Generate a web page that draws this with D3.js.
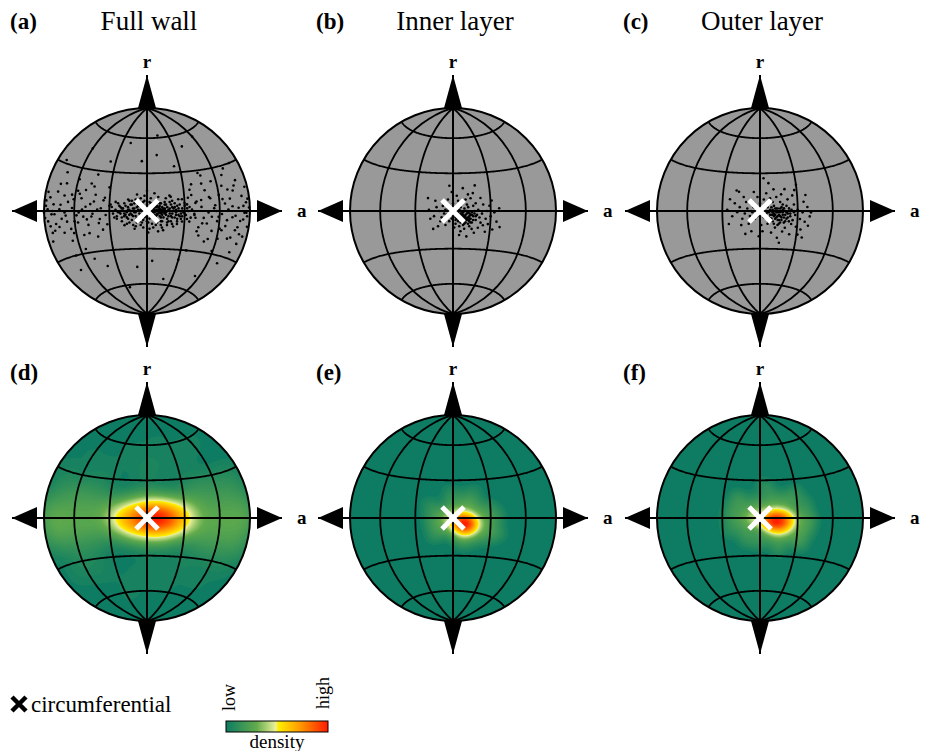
<!DOCTYPE html>
<html>
<head>
<meta charset="utf-8">
<script src="https://cdn.jsdelivr.net/npm/d3@7"></script>
<style>
  body { margin: 0; background: #fff; }
  svg { display: block; }
</style>
</head>
<body>
<svg></svg>
<script>
//SET UP THE CANVAS
var w = 928;
var h = 751;
var R = 103;               // radius of the net
var colX = [147, 453, 760];
var rowY = [211, 518];
var serif = "'Liberation Serif', 'Times New Roman', serif";

var svg = d3.select("svg")
     .attr("width", w)
     .attr("height", h)
     .attr("font-family", serif)
     .style("background-color", "white");

//DATA (orientation of fibres as [longitude, latitude] in degrees)
var panelLabels = ["(a)", "(b)", "(c)", "(d)", "(e)", "(f)"];
var titles = ["Full wall", "Inner layer", "Outer layer"];
var meridians = [-60, -30, 30, 60];
var parallels = [-60, -30, 30, 60];

var fullWall = [
  // dense core
  [-1,0],[2,1],[-3,-1],[4,-2],[1,3],[-2,-3],[5,2],[-5,1],[3,-4],[6,-1],[-6,-2],[0,5],[7,3],[-7,4],[8,-3],
  [-4,-5],[9,1],[-9,-1],[2,-6],[10,4],[-8,3],[11,-2],[-10,2],[12,1],[-11,-4],[13,-5],[4,6],[-3,7],[14,2],
  [-12,0],[15,-1],[6,-7],[-13,5],[16,3],[-14,-3],[17,-4],[1,-9],[18,0],[-15,1],[19,5],[-6,-8],[20,-2],
  [-16,-1],[21,2],[8,8],[-17,4],[22,-5],[-18,-2],[23,1],[11,-8],[-19,0],[24,4],[-9,9],[25,-3],[-20,-5],
  [26,0],[3,10],[-21,3],[27,-6],[14,7],[-22,-1],[28,2],[-5,-11],[29,-1],[-23,6],[7,-11],[30,4],[-24,-4],
  [16,-9],[-2,12],[31,-3],[-12,8],[9,11],[-25,1],[20,8],[-14,-9],[33,0],[12,-13],[-27,-2],[2,-14],[24,-10],
  [-8,13],[18,12],[-29,5],[35,-5],[0,16],[-18,-11],[6,14],[28,9],[-10,-14],
  [1,-2],[3,0],[-1,2],[5,-1],[7,0],[9,-2],[11,1],[13,-1],[4,2],[6,3],[10,-4],[12,3],[8,1],[-2,2],[2,-3],
  [-15,3],[-13,-2],[-11,2],[-9,-4],[-7,1],[-5,-3],[-3,3],[-1,-4],[1,1],[3,-2],[5,4],[7,-4],[9,3],[11,-5],
  [13,2],[15,-3],[17,1],[19,-4],[21,0],[23,-3],[25,2],[27,-2],[-17,-3],[-19,2],[-21,-2],[-12,5],[-8,-6],
  [-4,0],[0,-2],[4,-5],[8,4],[12,-3],[16,-6],[20,3],[24,-6],[28,-4],[-14,1],[-10,-1],[-6,4],[-2,-5],[2,3],
  [6,-3],[10,2],[14,-2],[18,-2],[22,3],[26,-4],[30,-2],[-16,-5],[-12,-3],[-7,-6],[-3,-7],[3,6],[7,5],
  [11,6],[15,5],[19,-8],[23,-1],[-20,2],[-23,-1],[32,2],[-2,0],[0,2],[2,-1],[4,0],[6,1],[8,-2],[10,-1],
  [12,-1],[14,1],[16,0],[18,2],[20,-5],[-18,-4],[-15,-6],[17,-8],
  [-24,-6],[-22,4],[-20,-8],[-18,6],[-16,-10],[-14,8],[-12,-7],[-10,6],[-8,-9],[-6,7],[-4,-9],[-2,8],
  [0,-8],[2,7],[4,-10],[6,7],[8,-9],[10,6],[12,-8],[14,5],[16,-11],[18,7],[20,-10],[22,6],[24,-8],[26,5],
  [28,-8],[30,6],[32,-6],[34,3],[-26,-5],[-28,3],[-25,7],[21,-12],[13,-15],[5,-13],[-3,-13],[-11,-11],
  [9,-16],[1,-17],[15,10],[-5,10],[11,-11],[-9,-12],[25,9],[19,11],[-15,9],[36,1],[-30,0],[38,-3],
  // left band
  [-30,4],[-33,-3],[-35,8],[-38,-6],[-40,1],[-42,12],[-44,-2],[-46,5],[-48,-10],[-50,3],[-52,-4],[-54,9],
  [-56,-1],[-58,14],[-60,-7],[-62,2],[-64,-12],[-66,6],[-68,-3],[-70,10],[-72,-5],[-74,1],[-76,17],[-78,-8],
  [-80,4],[-82,-2],[-84,8],[-86,-6],[-88,3],[-31,18],[-36,-14],[-41,-19],[-47,20],[-53,-17],[-59,22],
  [-65,-20],[-71,-14],[-77,12],[-83,-13],[-89,-4],[-34,10],[-39,-9],[-45,-4],[-51,15],[-57,-8],[-63,11],
  [-69,-1],[-75,-10],[-81,0],[-87,11],[-73,25],[-55,-27],[-43,27],[-67,-30],[-85,-18],
  [-32,-10],[-37,2],[-43,7],[-49,-6],[-53,1],[-58,-3],[-61,8],[-67,-7],[-73,4],[-79,-2],[-84,-9],[-88,6],
  [-90,-1],[-86,1],[-62,-15],[-48,-16],[-44,18],[-70,18],[-80,-12],[-56,12],
  // right band
  [32,5],[34,-8],[36,12],[38,-2],[40,7],[42,-12],[44,3],[46,-5],[48,15],[50,-1],[52,9],[54,-14],[56,4],
  [58,-7],[60,11],[62,-2],[64,17],[66,-10],[68,1],[70,8],[72,-4],[74,13],[76,-12],[78,2],[80,-6],[82,9],
  [84,-1],[86,5],[88,-9],[89,2],[37,20],[43,-18],[49,-22],[55,21],[61,-19],[67,24],[73,-17],[79,19],
  [85,-15],[87,14],[39,6],[45,-9],[51,10],[57,0],[63,-13],[69,14],[75,-3],[81,-20],[83,3],[87,-3],
  [71,28],[59,-28],[47,26],[77,-26],[65,5],[53,-4],[41,-15],[35,16],
  [33,10],[39,-5],[44,8],[49,-9],[55,2],[59,-4],[63,8],[67,-6],[72,3],[78,-10],[83,-5],[88,7],[90,0],
  [86,-1],[70,-18],[52,-20],[46,20],[76,16],[81,-14],[61,-12],
  // scattered
  [10,45],[-5,40],[25,35],[-35,38],[40,50],[60,55],[-60,45],[15,62],[-20,55],[5,-40],[-10,-45],[30,-38],
  [-40,-42],[55,-48],[-70,-40],[70,-35],[-25,-62],[20,-55],[80,30],[-80,32],[45,28],[-50,-35],[35,-30],[0,30]
];

var innerLayer = [
  [0,0],[3,-2],[6,-4],[8,-1],[10,-3],[5,1],[2,-5],[12,-5],[7,-7],[9,2],[4,-8],[11,0],[13,-2],[14,-6],[1,-3],
  [-2,-1],[6,3],[15,-1],[10,-9],[3,4],[-4,2],[16,-4],[8,-11],[12,3],[-1,-6],[17,0],[5,-12],[14,-9],[-5,-3],
  [18,-7],[11,5],[0,6],[19,-3],[2,-10],[-6,1],[13,-12],[20,1],[7,6],[-3,-8],[21,-5],[16,4],[9,-14],[-7,-2],
  [22,-9],[4,8],[15,-14],[-8,4],[23,-2],[18,6],[1,-13],[24,-11],[-9,-5],[10,9],[26,-6],[20,-13],[-4,9],
  [27,0],[6,-16],[-11,0],[28,-10],[14,10],[-10,-8],[30,-4],[24,5],[-13,3],[3,12],[32,-14],[17,-17],[-6,-11],
  [12,13],[33,-1],[-15,-4],[29,4],[-1,15],[8,18],[-14,8],[35,-8],[22,10],[-18,-6],[26,-16],[5,-19],
  [-12,-12],[37,2],[-3,20],[16,14],[-19,1],[31,8],[11,-20],[0,-4],[4,-1],[7,-3],[9,-6],[11,-2],[13,-4],
  [5,-6],[2,1],[8,-5],[10,0],[6,-2],[3,-6],[12,-7],[15,-3],[-1,2],[-20,10],[38,-12],[-16,-14],[18,20],
  [7,-2],[9,-4],[11,-6],[13,-8],[5,-3],[3,-1],[8,-8],[10,-5],[12,-1],[14,-3],[16,-7],[6,-9],[4,-4],
  [17,-2],[15,-9],[9,-10],[12,-10],[7,-5],[2,-7],[11,-7],[13,-6],[18,-4],[6,0],[8,-3],[10,-7]
];

var outerLayer = [
  [2,0],[5,-2],[8,1],[10,-3],[12,0],[14,-4],[6,3],[3,-5],[16,-1],[9,-6],[11,4],[18,-3],[7,-8],[13,2],[15,-7],
  [20,0],[1,-3],[4,5],[17,3],[22,-5],[-1,1],[19,-9],[10,7],[24,-2],[-3,-2],[6,-10],[21,4],[26,-7],[0,6],
  [14,-11],[23,2],[-5,3],[28,-3],[12,-13],[16,7],[-4,-6],[25,-10],[30,1],[3,9],[-7,0],[20,-13],[8,10],
  [32,-6],[-6,6],[27,5],[-8,-4],[18,-16],[34,-1],[13,11],[-10,2],[29,-12],[1,-11],[36,-8],[-2,11],[22,9],
  [-12,-2],[9,-17],[38,3],[-11,7],[33,-14],[17,13],[-14,-6],[40,-4],[5,14],[-9,-10],[26,12],[-16,3],
  [24,-18],[-13,11],[35,7],[11,17],[-18,-1],[14,-21],[-5,15],[31,-18],[-20,6],[2,-16],[39,-11],[-15,-11],
  [20,17],[-22,-4],[7,22],[-1,-20],[28,16],[-24,9],[37,12],[-7,-16],[16,-25],[-17,15],[41,-1],[3,26],
  [-26,1],[0,-1],[4,-3],[7,-1],[9,0],[11,-2],[13,-1],[15,-3],[6,-5],[8,-3],[10,1],[12,-6],[17,-5],[19,2],
  [14,2],[5,0],[2,-2],[16,-9],[21,-1],[23,-8],[9,3],[-2,-4],[-4,4],[18,5],[25,1],[11,-10],[27,-1],[-6,-1],
  [-19,16],[30,20],[-12,-18],[35,-20],[-25,-10],
  [10,-1],[12,-3],[14,-1],[16,-4],[18,-1],[20,-3],[13,-5],[15,0],[17,-7],[11,-4],[19,-5],[21,-6],[9,-3],
  [7,-5],[22,-2],[14,-7],[16,2],[12,2],[24,-4],[8,-6],[18,1],[20,-8],[10,-8],[15,-10],[23,0],[6,-1]
];

var layers = [fullWall, innerLayer, outerLayer];

// colour ramp of the density legend
var densityStops = [0, 0.3, 0.49, 0.51, 0.72, 1];
var densityColors = ["#0d7c62", "#62ab4c", "#eef29a", "#fff000", "#ff9c00", "#ff1a00"];
var colorScale = d3.scaleLinear().domain(densityStops).range(densityColors).clamp(true);

// Schmidt net = Lambert azimuthal equal area, one hemisphere
function makeProjection() {
  return d3.geoAzimuthalEqualArea()
       .scale(R / Math.SQRT2)
       .translate([0, 0])
       .clipAngle(90)
       .precision(0.1);
}

var defs = svg.append("defs");
defs.append("clipPath").attr("id", "disk")
    .append("circle").attr("r", R);

////DRAW THE SIX NETS
for (var i = 0; i < 6; i++) {
  var col = i % 3;
  var row = Math.floor(i / 3);
  var pts = layers[col];
  var proj = makeProjection();
  var path = d3.geoPath(proj);

  var g = svg.append("g")
       .attr("transform", "translate(" + colX[col] + "," + rowY[row] + ")");

  // disk background
  g.append("circle")
    .attr("r", R)
    .attr("fill", row === 0 ? "#999999" : colorScale(0));

  if (row === 1) {
    // kernel density of the same points, in screen space
    var off = R + 30;
    var dens = d3.contourDensity()
         .x(function (d) { return proj(d)[0] + off; })
         .y(function (d) { return proj(d)[1] + off; })
         .size([2 * off, 2 * off])
         .cellSize(1)
         .bandwidth(col === 0 ? 10 : 5.5);
    var field = dens.contours(pts);
    var mx = field.max;
    var N = 90;
    var levels = d3.range(1, N + 1).map(function (k) { return mx * k / (N + 1); });
    g.append("g")
      .attr("clip-path", "url(#disk)")
      .append("g")
      .attr("transform", "translate(" + (-off) + "," + (-off) + ")")
      .selectAll("path")
      .data(levels)
      .join("path")
      .attr("d", function (t) { return d3.geoPath()(field(t)); })
      .attr("fill", function (t) { return colorScale(Math.pow(t / mx, 0.75)); });
  }

  // graticule
  var lines = meridians.map(function (lon) {
    return { type: "LineString", coordinates: [[lon, -90], [lon, -45], [lon, 0], [lon, 45], [lon, 90]] };
  }).concat(parallels.map(function (lat) {
    return { type: "LineString", coordinates: d3.range(-90, 90.5, 1).map(function (lon) { return [lon, lat]; }) };
  }));
  g.selectAll("path.grat")
    .data(lines)
    .join("path")
    .attr("class", "grat")
    .attr("d", path)
    .attr("fill", "none")
    .attr("stroke", "black")
    .attr("stroke-width", 1.8);

  g.append("circle")
    .attr("r", R)
    .attr("fill", "none")
    .attr("stroke", "black")
    .attr("stroke-width", 2);

  // scattered orientations
  if (row === 0) {
    g.selectAll("circle.pt")
      .data(pts)
      .join("circle")
      .attr("class", "pt")
      .attr("cx", function (d) { return proj(d)[0]; })
      .attr("cy", function (d) { return proj(d)[1]; })
      .attr("r", 1.3)
      .attr("fill", "black");
  }

  // axes with arrows
  g.append("line").attr("x1", -135).attr("x2", 135).attr("y1", 0).attr("y2", 0)
    .attr("stroke", "black").attr("stroke-width", 2);
  g.append("line").attr("x1", 0).attr("x2", 0).attr("y1", -136).attr("y2", 136)
    .attr("stroke", "black").attr("stroke-width", 2);
  var heads = [
    "M0,-136L9,-103L-9,-103Z",
    "M0,136L9,103L-9,103Z",
    "M-135,0L-110,-11L-110,11Z",
    "M135,0L110,-11L110,11Z"
  ];
  g.selectAll("path.head")
    .data(heads)
    .join("path")
    .attr("class", "head")
    .attr("d", function (d) { return d; })
    .attr("fill", "black");

  g.append("text").attr("x", 0).attr("y", -143)
    .attr("text-anchor", "middle").attr("font-weight", "bold").attr("font-size", 19)
    .text("r");
  g.append("text").attr("x", 150).attr("y", 6)
    .attr("text-anchor", "start").attr("font-weight", "bold").attr("font-size", 19)
    .text("a");

  // circumferential direction
  g.append("path")
    .attr("d", "M-11,-11L11,11M-11,11L11,-11")
    .attr("stroke", "white")
    .attr("stroke-width", 5);

  // panel label
  svg.append("text")
    .attr("x", colX[col] - 137)
    .attr("y", row === 0 ? 29 : 380)
    .attr("font-weight", "bold")
    .attr("font-size", 23)
    .text(panelLabels[i]);
}

// column titles
svg.selectAll("text.title")
  .data(titles)
  .join("text")
  .attr("class", "title")
  .attr("x", function (d, i) { return colX[i] + 2; })
  .attr("y", 30)
  .attr("text-anchor", "middle")
  .attr("font-size", 27)
  .text(function (d) { return d; });

////LEGEND
svg.append("path")
  .attr("d", "M12,697L26,711M12,711L26,697")
  .attr("stroke", "black")
  .attr("stroke-width", 4.5);
svg.append("text").attr("x", 31).attr("y", 712).attr("font-size", 23).text("circumferential");

var grad = defs.append("linearGradient").attr("id", "ramp");
grad.selectAll("stop")
  .data(densityStops)
  .join("stop")
  .attr("offset", function (d) { return d * 100 + "%"; })
  .attr("stop-color", function (d, i) { return densityColors[i]; });
svg.append("rect")
  .attr("x", 226).attr("y", 721).attr("width", 102).attr("height", 11)
  .attr("fill", "url(#ramp)").attr("stroke", "black").attr("stroke-width", 1);
svg.append("text").attr("transform", "translate(235,711) rotate(-90)")
  .attr("font-size", 18).text("low");
svg.append("text").attr("transform", "translate(329,709) rotate(-90)")
  .attr("font-size", 18).text("high");
svg.append("text").attr("x", 277).attr("y", 748)
  .attr("text-anchor", "middle").attr("font-size", 19).text("density");
</script>
</body>
</html>
